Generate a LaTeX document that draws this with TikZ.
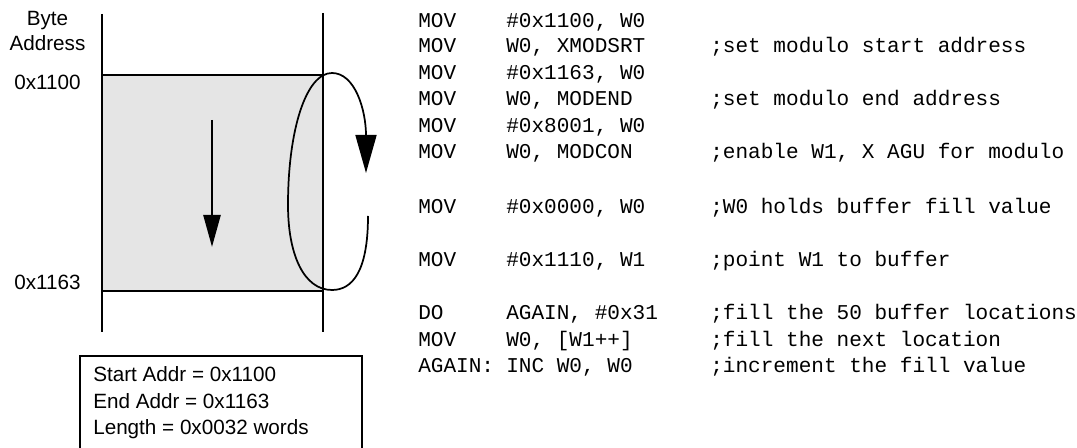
\documentclass[tikz,border=0pt]{standalone}
\usepackage{fontspec}
\setmainfont{Liberation Sans}
\setmonofont{Liberation Mono}
\usetikzlibrary{arrows.meta}
\colorlet{buffer}{black!10}
\tikzset{
  addr/.style = {font=\fontsize{15.5}{18}\selectfont, anchor=base, inner sep=0pt},
  info/.style = {font=\fontsize{15.5}{18}\selectfont, anchor=base west, inner sep=0pt},
  code/.style = {font=\ttfamily\fontsize{15.8}{18}\selectfont, anchor=base west, inner sep=0pt},
  wall/.style = {line width=1.2pt},
  filltip/.style = {-{Triangle[length=24pt,width=12.75pt]}, line width=1.9pt},
  looptip/.style = {-{Triangle[length=28.5pt,width=15.75pt]}, line width=1.3pt}
}

\begin{document}
\begin{tikzpicture}[x=0.75pt,y=-0.75pt]
  \useasboundingbox (0,0) rectangle (1077,448);
  % memory buffer
  \coordinate (top west) at (102,75);
  \coordinate (bot east) at (323,291);
  \fill[buffer] (top west) rectangle (bot east);
  \draw[wall] (102,14) -- (102,332);
  \draw[wall] (323,13) -- (323,332);
  \draw[wall] (top west) -- (top west -| bot east);
  \draw[wall] (top west |- bot east) -- (bot east);
  \node[addr] (byte) at (47.5,25.4) {Byte};
  \node[addr] (address) at (47.5,50.4) {Address};
  \node[addr] (start) at (47.5,89.4) {0x1100};
  \node[addr] (end) at (47.5,289.4) {0x1163};
  % fill direction and wrap around
  \coordinate (fill from) at (212,120);
  \coordinate (fill to) at (212,247);
  \draw[filltip] (fill from) -- (fill to);
  \draw[looptip] (368,216) .. controls (368,272) and (352,290) .. (332,290)
    .. controls (304,290) and (288,255) .. (288,205)
    .. controls (288,130) and (306,73) .. (332,73)
    .. controls (355,73) and (366,110) .. (366,173);
  % summary
  \draw[line width=1.1pt] (80,356) rectangle (362,460);
  \node[info] (startaddr) at (93,382) {Start Addr = 0x1100};
  \node[info] (endaddr) at (93,408) {End Addr = 0x1163};
  \node[info] (length) at (93,435) {Length = 0x0032 words};
  % code listing
  \foreach \y/\op/\arg/\cmt [count=\i] in {
    27.7/MOV/{\#0x1100, W0}/{},
    53/MOV/{W0, XMODSRT}/{;set modulo start address},
    79.5/MOV/{\#0x1163, W0}/{},
    106/MOV/{W0, MODEND}/{;set modulo end address},
    132.5/MOV/{\#0x8001, W0}/{},
    159/MOV/{W0, MODCON}/{;enable W1, X AGU for modulo},
    214/MOV/{\#0x0000, W0}/{;W0 holds buffer fill value},
    267/MOV/{\#0x1110, W1}/{;point W1 to buffer},
    320/DO/{AGAIN, \#0x31}/{;fill the 50 buffer locations},
    347/MOV/{W0, [W1++]}/{;fill the next location},
    373/AGAIN:/{INC W0, W0}/{;increment the fill value}}{
    \node[code] (op\i) at (418,\y) {\op};
    \node[code] (arg\i) at (506,\y) {\arg};
    \node[code] (cmt\i) at (710,\y) {\cmt};
  }
\end{tikzpicture}
\end{document}
